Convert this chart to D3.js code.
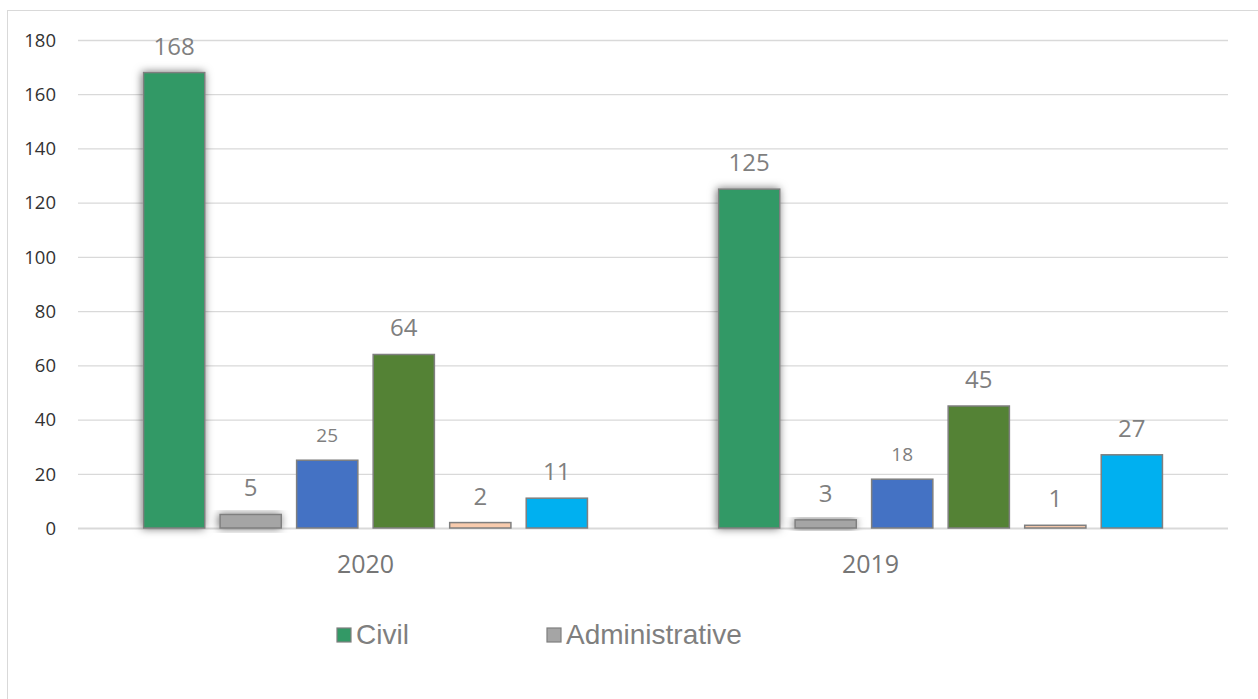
<!DOCTYPE html>
<html><head><meta charset="utf-8">
<script src="https://cdn.jsdelivr.net/npm/d3@7"></script>
<style>body{margin:0;background:#fff}svg{display:block}</style>
</head><body>
<svg id="c" width="1258" height="699"></svg>
<script>
const categories = ["2020", "2019"];
const seriesNames = ["Civil", "Administrative", "Series 3", "Series 4", "Series 5", "Series 6"];
const civil = [168, 125];
const administrative = [5, 3];
const series3 = [25, 18];
const series4 = [64, 45];
const series5 = [2, 1];
const series6 = [11, 27];
const yTicks = [0, 20, 40, 60, 80, 100, 120, 140, 160, 180];
const legendNames = ["Civil", "Administrative"];

const seriesValues = [civil, administrative, series3, series4, series5, series6];
const colors = ["#339966", "#A5A5A5", "#4472C4", "#548235", "#F8CBAD", "#00B0F0"];
const labelSizes = [24, 24, 19, 24, 24, 24];
const shadowed = [true, true, false, false, false, false];
const catLabelShift = [0, -70];

const svg = d3.select("#c");
const defs = svg.append("defs");
const f = defs.append("filter").attr("id", "sh").attr("x", "-30%").attr("y", "-30%").attr("width", "160%").attr("height", "160%");
f.append("feDropShadow").attr("dx", -1).attr("dy", 0).attr("stdDeviation", 4).attr("flood-color", "#000").attr("flood-opacity", 0.55);

// chart border
svg.append("rect").attr("x", 7.5).attr("y", 10.5).attr("width", 1260).attr("height", 700)
  .attr("fill", "none").attr("stroke", "#d9d9d9");

const mLeft = 78, mRight = 1228, mTop = 40, mBottom = 528;
const y = d3.scaleLinear().domain([0, 180]).range([mBottom, mTop]);
const x0 = d3.scaleBand().domain(categories).range([mLeft, mRight]).paddingInner(0.228).paddingOuter(0.114);
const x1 = d3.scaleBand().domain(d3.range(seriesNames.length)).range([0, x0.bandwidth()]).paddingInner(0.2);

// gridlines
const yAxis = d3.axisLeft(y).tickValues(yTicks).tickSize(-(mRight - mLeft)).tickPadding(22);
const ga = svg.append("g").attr("transform", `translate(${mLeft},0)`).call(yAxis);
ga.select(".domain").remove();
ga.selectAll(".tick line").attr("stroke", "#d9d9d9").attr("stroke-width", 1.3);
ga.selectAll(".tick text").attr("fill", "#333").attr("font-family", "'Open Sans', sans-serif")
  .attr("font-size", 18.5).attr("dy", "0.34em");
ga.selectAll(".tick").filter(d => d === 0).select("line").attr("stroke-width", 2);

// bars
categories.forEach((cat, ci) => {
  const g = svg.append("g").attr("transform", `translate(${x0(cat)},0)`);
  seriesValues.forEach((vals, si) => {
    const v = vals[ci];
    g.append("rect")
      .attr("x", x1(si)).attr("y", y(v))
      .attr("width", x1.bandwidth()).attr("height", y(0) - y(v))
      .attr("fill", colors[si]).attr("stroke", "#7f7f7f").attr("stroke-width", 1.5)
      .attr("filter", shadowed[si] ? "url(#sh)" : null);
    g.append("text")
      .attr("x", x1(si) + x1.bandwidth() / 2).attr("y", y(v) - 18)
      .attr("text-anchor", "middle").attr("fill", "#7f7f7f")
      .attr("font-family", "'Open Sans', sans-serif").attr("font-size", labelSizes[si])
      .text(v);
  });
});

// x axis labels
svg.append("g").selectAll("text").data(categories).join("text")
  .attr("x", (d, i) => x0(d) + x0.bandwidth() / 2 + catLabelShift[i]).attr("y", 573)
  .attr("text-anchor", "middle").attr("fill", "#767676")
  .attr("font-family", "'Open Sans', sans-serif").attr("font-size", 25)
  .text(d => d);

// legend
const legX = [337, 547];
const leg = svg.append("g").selectAll("g").data(legendNames).join("g")
  .attr("transform", (d, i) => `translate(${legX[i]},628)`);
leg.append("rect").attr("width", 14).attr("height", 14)
  .attr("fill", (d, i) => colors[i]).attr("stroke", "#7f7f7f").attr("stroke-width", 1.2);
leg.append("text").attr("x", 19).attr("y", 16).attr("fill", "#7f7f7f")
  .attr("font-family", "'Liberation Sans', Arial, sans-serif").attr("font-size", 28)
  .text(d => d);
</script>
</body></html>
